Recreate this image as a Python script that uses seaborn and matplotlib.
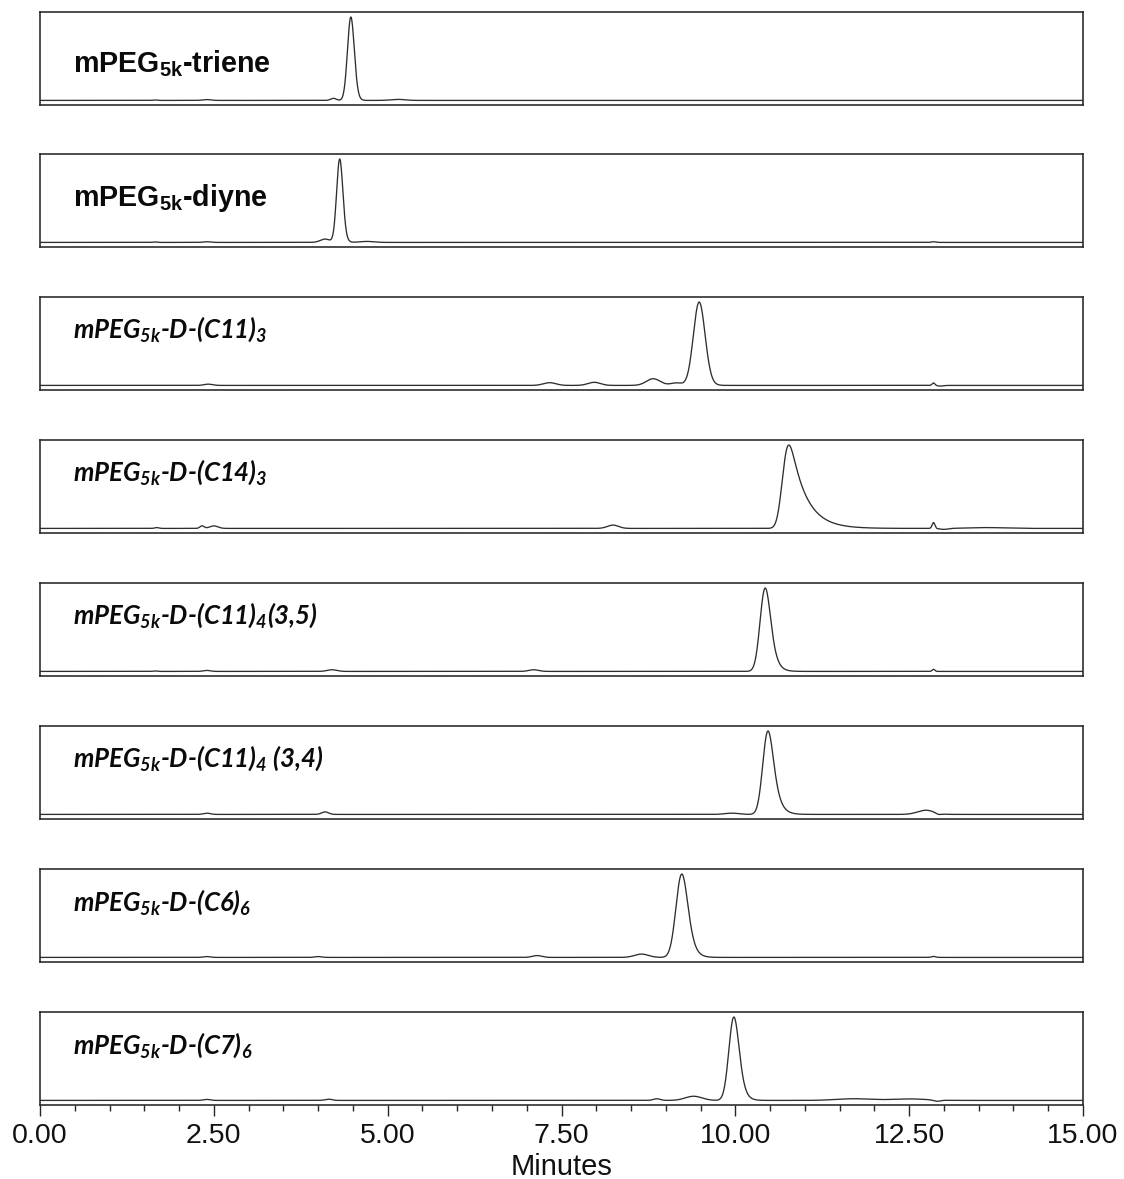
import numpy as np
import pandas as pd
import matplotlib
matplotlib.use("Agg")
import matplotlib.pyplot as plt
from matplotlib.ticker import MultipleLocator, FormatStrFormatter
import seaborn as sns

sns.set_style("white")
plt.rcParams["font.family"] = ["Liberation Sans", "DejaVu Sans"]

# Sample names as printed in each panel
labels = [
    r"$\mathregular{mPEG_{5k}}$-triene",
    r"$\mathregular{mPEG_{5k}}$-diyne",
    r"$\mathregular{mPEG_{5k}}$-D-(C11)$\mathregular{_3}$",
    r"$\mathregular{mPEG_{5k}}$-D-(C14)$\mathregular{_3}$",
    r"$\mathregular{mPEG_{5k}}$-D-(C11)$\mathregular{_4}$(3,5)",
    r"$\mathregular{mPEG_{5k}}$-D-(C11)$\mathregular{_4}$ (3,4)",
    r"$\mathregular{mPEG_{5k}}$-D-(C6)$\mathregular{_6}$",
    r"$\mathregular{mPEG_{5k}}$-D-(C7)$\mathregular{_6}$",
]
italic_label = [False, False, True, True, True, True, True, True]

# Peak tables: (retention time [min], relative height, sigma [min], exponential tail [min])
triene_peaks = [(4.47, 1.00, 0.046, 0.02), (4.22, 0.025, 0.04, 0.0),
                (5.15, 0.012, 0.10, 0.0), (2.40, 0.010, 0.06, 0.0),
                (1.65, 0.006, 0.03, 0.0)]
diyne_peaks = [(4.31, 1.00, 0.042, 0.02), (4.10, 0.040, 0.07, 0.0),
               (4.70, 0.012, 0.10, 0.0), (2.40, 0.008, 0.05, 0.0),
               (1.65, 0.006, 0.03, 0.0), (12.85, 0.008, 0.03, 0.0)]
c11_3_peaks = [(9.48, 1.00, 0.080, 0.03), (9.15, 0.030, 0.08, 0.0),
               (8.82, 0.080, 0.10, 0.0), (7.97, 0.037, 0.09, 0.0),
               (7.33, 0.033, 0.09, 0.0), (2.42, 0.015, 0.06, 0.0),
               (12.85, 0.030, 0.02, 0.0), (12.95, -0.008, 0.04, 0.0)]
c14_3_peaks = [(10.77, 1.00, 0.065, 0.22), (8.24, 0.040, 0.08, 0.0),
               (2.33, 0.030, 0.03, 0.0), (2.50, 0.030, 0.06, 0.0),
               (1.68, 0.010, 0.03, 0.0), (12.85, 0.070, 0.02, 0.0),
               (13.00, -0.012, 0.06, 0.0), (13.60, 0.010, 0.25, 0.0)]
c11_4_35_peaks = [(10.43, 1.00, 0.065, 0.06), (4.20, 0.020, 0.07, 0.0),
                  (7.10, 0.020, 0.07, 0.0), (2.40, 0.012, 0.05, 0.0),
                  (1.65, 0.006, 0.03, 0.0), (12.85, 0.025, 0.02, 0.0)]
c11_4_34_peaks = [(10.47, 1.00, 0.065, 0.07), (12.74, 0.050, 0.12, 0.0),
                  (12.92, -0.015, 0.04, 0.0), (4.10, 0.030, 0.05, 0.0),
                  (2.40, 0.015, 0.05, 0.0), (9.95, 0.015, 0.10, 0.0)]
c6_6_peaks = [(9.23, 1.00, 0.075, 0.06), (8.65, 0.040, 0.10, 0.0),
              (7.15, 0.022, 0.07, 0.0), (4.00, 0.010, 0.05, 0.0),
              (2.40, 0.010, 0.05, 0.0), (12.85, 0.012, 0.03, 0.0)]
c7_6_peaks = [(9.98, 1.00, 0.065, 0.05), (9.40, 0.050, 0.12, 0.0),
              (8.87, 0.020, 0.05, 0.0), (4.15, 0.015, 0.05, 0.0),
              (2.40, 0.012, 0.05, 0.0), (11.70, 0.020, 0.25, 0.0),
              (12.50, 0.018, 0.25, 0.0), (12.90, -0.015, 0.05, 0.0)]

all_peaks = [triene_peaks, diyne_peaks, c11_3_peaks, c14_3_peaks,
             c11_4_35_peaks, c11_4_34_peaks, c6_6_peaks, c7_6_peaks]

# label baseline height inside each panel (axes fraction)
label_y = [0.355, 0.44, 0.56, 0.56, 0.56, 0.56, 0.55, 0.55]

time = np.linspace(0.0, 15.0, 7501)


def peak_shape(t, rt, sd, tail):
    """Gaussian (optionally exponentially tailed) with apex at rt, unit height."""
    dt = 0.002
    u = np.arange(-8 * sd, 8 * sd + 12 * tail + dt, dt)
    g = np.exp(-0.5 * (u / sd) ** 2)
    if tail > 0:
        k = np.exp(-np.arange(0.0, 12 * tail, dt) / tail)
        g = np.convolve(g, k)[: len(u)]
    g = g / g.max()
    apex = u[np.argmax(g)]
    return np.interp(t - rt + apex, u, g, left=0.0, right=0.0)


def trace(peaks):
    y = np.zeros_like(time)
    for rt, h, sd, tail in peaks:
        y += h * peak_shape(time, rt, sd, tail)
    return y


W, H = 1124, 1179
fig = plt.figure(figsize=(W / 100, H / 100), dpi=100)

panel_tops = [12, 154, 297, 440, 583, 726, 869, 1012]
panel_h = 93
left_px, right_px = 40, 1083

frame_color = "#262626"
for i, peaks in enumerate(all_peaks):
    top = panel_tops[i]
    ax = fig.add_axes([left_px / W, 1 - (top + panel_h) / H,
                       (right_px - left_px) / W, panel_h / H])
    df = pd.DataFrame({"Minutes": time, "Signal": trace(peaks)})
    sns.lineplot(data=df, x="Minutes", y="Signal", ax=ax,
                 color="#2e2e2e", linewidth=0.95)
    ax.set_xlim(0, 15)
    ax.set_ylim(-0.055, 1.06)
    ax.set_yticks([])
    ax.set_ylabel("")
    for sp in ax.spines.values():
        sp.set_visible(True)
        sp.set_color(frame_color)
        sp.set_linewidth(1.15)

    if italic_label[i]:
        ax.text(0.032, label_y[i], labels[i], transform=ax.transAxes,
                family=["Lato", "DejaVu Sans"], fontweight="bold",
                fontstyle="italic", fontsize=18.5, va="baseline", ha="left",
                color="#0a0a0a")
    else:
        ax.text(0.032, label_y[i], labels[i], transform=ax.transAxes,
                family=["Liberation Sans", "DejaVu Sans"], fontweight="bold",
                fontsize=20.6, va="baseline", ha="left", color="#0a0a0a")

    if i < len(all_peaks) - 1:
        ax.set_xticks([])
        ax.set_xlabel("")
    else:
        ax.xaxis.set_major_locator(MultipleLocator(2.5))
        ax.xaxis.set_minor_locator(MultipleLocator(0.5))
        ax.xaxis.set_major_formatter(FormatStrFormatter("%.2f"))
        ax.tick_params(axis="x", which="major", direction="out", length=8,
                       width=1.0, color=frame_color, labelsize=20.5, pad=5,
                       labelcolor="#111111", bottom=True)
        ax.tick_params(axis="x", which="minor", direction="out", length=4.5,
                       width=1.0, color=frame_color, bottom=True)
        ax.set_xlabel("Minutes", fontsize=21, color="#111111", labelpad=3)

fig.savefig("out.png", dpi=100)
